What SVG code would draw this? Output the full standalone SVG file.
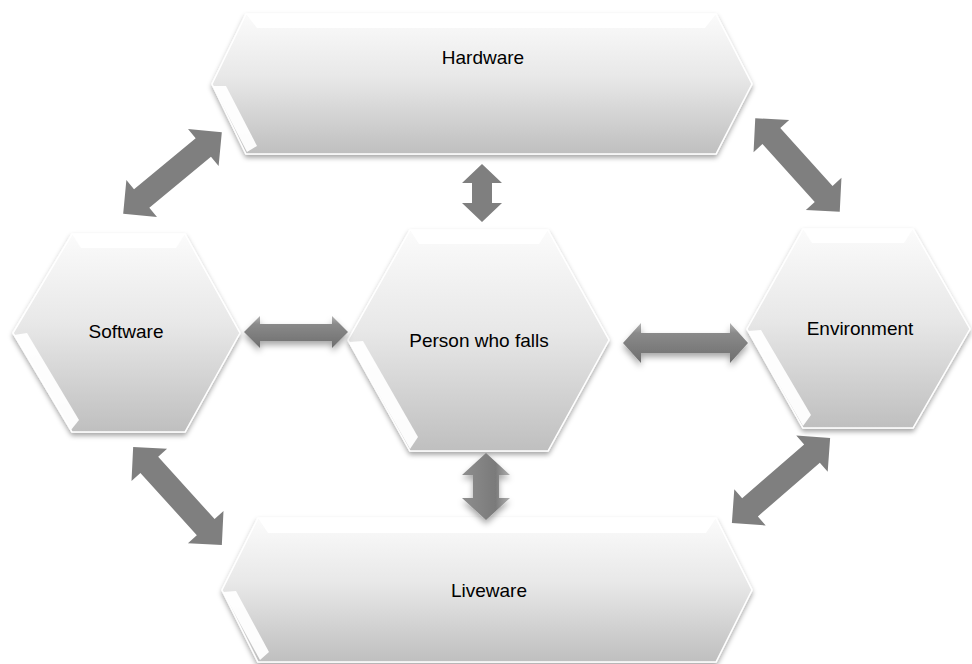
<svg xmlns="http://www.w3.org/2000/svg" width="972" height="664" viewBox="0 0 972 664">
<defs>
<linearGradient id="hexFill" x1="0" y1="0" x2="0" y2="1">
<stop offset="0" stop-color="#fbfbfb"/>
<stop offset="0.45" stop-color="#e8e8e8"/>
<stop offset="1" stop-color="#bfbfbf"/>
</linearGradient>
<linearGradient id="bevelArrow" x1="0" y1="0" x2="0" y2="1">
<stop offset="0" stop-color="#b4b4b4"/>
<stop offset="0.25" stop-color="#8a8a8a"/>
<stop offset="1" stop-color="#6e6e6e"/>
</linearGradient>
<linearGradient id="bevelArrowV" x1="0" y1="0" x2="1" y2="0">
<stop offset="0" stop-color="#8e8e8e"/>
<stop offset="0.7" stop-color="#7a7a7a"/>
<stop offset="1" stop-color="#b0b0b0"/>
</linearGradient>
<filter id="shadow" x="-10%" y="-10%" width="120%" height="130%">
<feDropShadow dx="0" dy="3" stdDeviation="2.5" flood-color="#000" flood-opacity="0.35"/>
</filter>
<filter id="ashadow" x="-20%" y="-30%" width="140%" height="180%">
<feDropShadow dx="0" dy="4" stdDeviation="3" flood-color="#000" flood-opacity="0.35"/>
</filter>
</defs>
<style>
.hex{fill:url(#hexFill);stroke:#ffffff;stroke-width:1.5;filter:url(#shadow)}
.bev{fill:#ffffff;opacity:0.95}
.lbl{font-family:"Liberation Sans",Arial,sans-serif;font-size:19px;fill:#000000;text-anchor:middle}
.arr{fill:#7f7f7f}
.arr3d{fill:url(#bevelArrow);filter:url(#ashadow)}
.arr3dv{fill:url(#bevelArrowV);filter:url(#ashadow)}
</style>
<rect width="972" height="664" fill="#ffffff"/>

<g id="hardware">
<polygon class="hex" points="212,84 246,14 716,14 752,84 716,154 246,154"/>
<polygon class="bev" points="246,14 716,14 705,28 257,28"/>
<polygon class="bev" points="213,86 226,86 257,146 247,152"/>
<text class="lbl" x="483" y="64">Hardware</text>
</g>

<g id="software">
<polygon class="hex" points="13,333 72,234 185,234 240,333 185,432 72,432"/>
<polygon class="bev" points="72,234 185,234 176,248 81,248"/>
<polygon class="bev" points="14,335 27,333 79,420 71,430"/>
<text class="lbl" x="126" y="338">Software</text>
</g>

<g id="person">
<polygon class="hex" points="348,340 410,230 548,230 609,340 548,451 410,451"/>
<polygon class="bev" points="410,230 548,230 539,244 419,244"/>
<polygon class="bev" points="349,342 363,341 418,437 410,449"/>
<text class="lbl" x="479" y="347">Person who falls</text>
</g>

<g id="environment">
<polygon class="hex" points="747,329 803,229 913,229 970,329 913,428 803,428"/>
<polygon class="bev" points="803,229 913,229 904,243 812,243"/>
<polygon class="bev" points="748,331 761,330 811,415 803,426"/>
<text class="lbl" x="860" y="335">Environment</text>
</g>

<g id="liveware">
<polygon class="hex" points="222,590 258,518 716,518 752,590 716,662 258,662"/>
<polygon class="bev" points="258,518 716,518 706,533 268,533"/>
<polygon class="bev" points="223,592 236,591 269,652 260,660"/>
<text class="lbl" x="489" y="597">Liveware</text>
</g>

<g id="connectors">
<path class="arr" transform="translate(172.5,173) rotate(-39.6)" d="M-64,0 L-40,-24 L-40,-12 L40,-12 L40,-24 L64,0 L40,24 L40,12 L-40,12 L-40,24 Z"/>
<path class="arr" transform="translate(797.5,165) rotate(47.9)" d="M-63,0 L-39,-24 L-39,-12 L39,-12 L39,-24 L63,0 L39,24 L39,12 L-39,12 L-39,24 Z"/>
<path class="arr" transform="translate(177.5,496) rotate(47.8)" d="M-66,0 L-42,-24 L-42,-12 L42,-12 L42,-24 L66,0 L42,24 L42,12 L-42,12 L-42,24 Z"/>
<path class="arr" transform="translate(781,480.5) rotate(-40.9)" d="M-65,0 L-41,-24 L-41,-12 L41,-12 L41,-24 L65,0 L41,24 L41,12 L-41,12 L-41,24 Z"/>
<polygon class="arr" points="482,164 502,183 492,183 492,203 502,203 482,222 462,203 472,203 472,183 462,183"/>
<polygon class="arr3d" points="244,332 260,316 260,324 332,324 332,316 348,332 332,348 332,341 260,341 260,348"/>
<polygon class="arr3d" points="623,343 641,323 641,333 730,333 730,323 748,343 730,363 730,353 641,353 641,363"/>
<polygon class="arr3dv" points="486,453 510,475 499,475 499,498 510,498 486,520 462,498 473,498 473,475 462,475"/>
</g>
</svg>
